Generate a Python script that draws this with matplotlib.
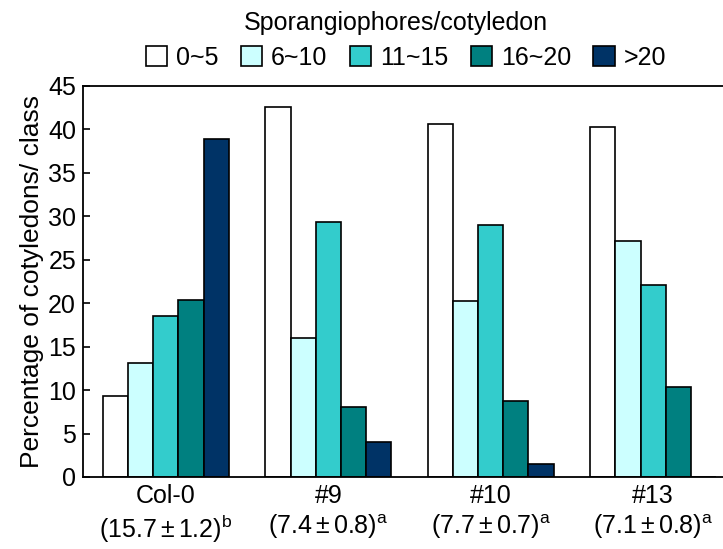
import matplotlib
matplotlib.use("Agg")
import matplotlib.pyplot as plt
import numpy as np

plt.rcParams["font.family"] = ["Liberation Sans", "DejaVu Sans"]
plt.rcParams["mathtext.fontset"] = "custom"
plt.rcParams["mathtext.rm"] = "Liberation Sans"
plt.rcParams["mathtext.it"] = "Liberation Sans"

# データ
lines = ["Col-0", "#9", "#10", "#13"]
line_stats = [r"$(15.7\pm1.2)^{\mathrm{b}}$", r"$(7.4\pm0.8)^{\mathrm{a}}$",
              r"$(7.7\pm0.7)^{\mathrm{a}}$", r"$(7.1\pm0.8)^{\mathrm{a}}$"]
classes = ["0~5", "6~10", "11~15", "16~20", ">20"]
pct_0_5 = [9.3, 42.6, 40.6, 40.3]
pct_6_10 = [13.1, 16.0, 20.2, 27.2]
pct_11_15 = [18.5, 29.3, 29.0, 22.1]
pct_16_20 = [20.4, 8.0, 8.8, 10.4]
pct_gt20 = [38.9, 4.0, 1.5, 0.0]
colors = ["#FFFFFF", "#CCFFFF", "#33CCCC", "#008080", "#003366"]

W, H = 723, 549
fig = plt.figure(figsize=(W / 100, H / 100), dpi=100)
# 右端は図の外まで伸ばす（元図が切れている）
ax = fig.add_axes([83 / W, 1 - 477 / H, (736 - 83) / W, (477 - 86) / H])

x = np.arange(len(lines))
bw = 0.155
series = [pct_0_5, pct_6_10, pct_11_15, pct_16_20, pct_gt20]
handles = []
for i, (vals, c, lab) in enumerate(zip(series, colors, classes)):
    h = ax.bar(x + (i - 2) * bw, vals, bw, color=c, edgecolor="black",
               linewidth=1.2, label=lab, zorder=2)
    handles.append(h)

ax.set_xlim(-0.51, 3.51)
ax.set_ylim(0, 45)
ax.set_yticks(range(0, 50, 5))
ax.set_xticks(x)
ax.set_xticklabels([f"{a}\n{b}" for a, b in zip(lines, line_stats)],
                   fontsize=18, linespacing=1.2)
ax.tick_params(axis="y", labelsize=18, direction="in", length=5, width=1.2, pad=5)
ax.tick_params(axis="x", length=0, pad=5)
for s in ax.spines.values():
    s.set_linewidth(1.3)
ax.set_ylabel("Percentage of cotyledons/ class", fontsize=19, labelpad=3)

fig.text(396 / W, 1 - 23 / H, "Sporangiophores/cotyledon", ha="center",
         va="center", fontsize=18)
fig.legend(handles=handles, labels=classes, ncol=5, frameon=False,
           loc="center", bbox_to_anchor=(406 / W, 1 - 58 / H), fontsize=18,
           handlelength=0.85, handleheight=0.85, handletextpad=0.35,
           columnspacing=0.9, borderaxespad=0)

fig.savefig("out.png", dpi=100)
